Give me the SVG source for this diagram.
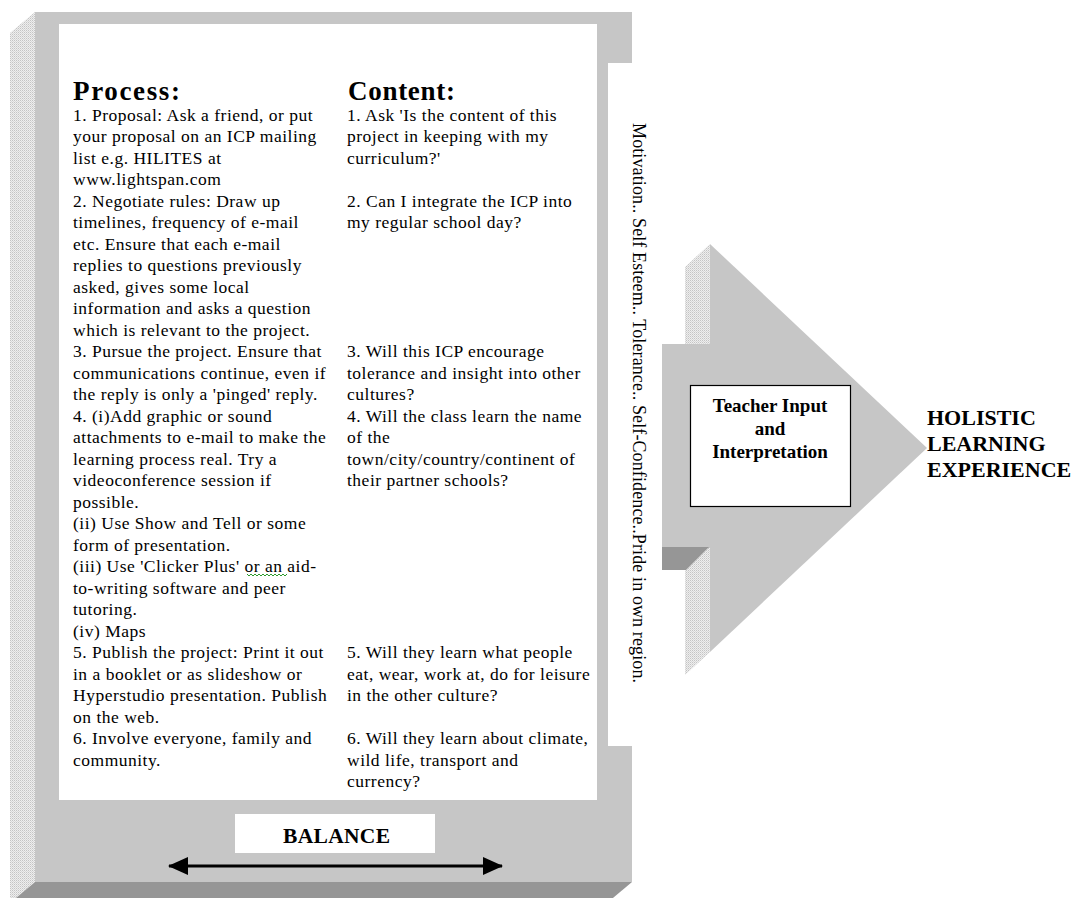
<svg xmlns="http://www.w3.org/2000/svg" width="1075" height="898" viewBox="0 0 1075 898">
<defs>
<pattern id="hatch" width="2" height="2" patternUnits="userSpaceOnUse">
<rect width="2" height="2" fill="#eeeeee"/>
<rect width="1" height="1" fill="#c4c4c4"/>
<rect x="1" y="1" width="1" height="1" fill="#d8d8d8"/>
</pattern>
<marker id="ah" viewBox="0 0 20 18" refX="19" refY="9" markerWidth="20" markerHeight="18" markerUnits="userSpaceOnUse" orient="auto-start-reverse">
<path d="M0,0 L20,9 L0,18 Z" fill="#000"/>
</marker>
<style>
.t{font-family:"Liberation Serif","Times New Roman",serif;fill:#000}
.body{font-size:17.5px;letter-spacing:0.5px}
.hdr{font-size:27px;font-weight:bold}
.b{font-weight:bold}
.light{fill:#c6c6c6}
.dark{fill:#969696}
.hat{fill:url(#hatch)}
</style>
</defs>
<rect width="1075" height="898" fill="#ffffff"/>

<g id="frame">
<polygon class="hat" points="35,12 10,33 10,903 35,882"/>
<polygon class="dark" points="35,882 632,882 607,903 10,903"/>
<polygon class="light" points="35,12 632,12 632,63 608,63 608,746 632,746 632,882 35,882"/>
<rect x="59" y="24" width="538" height="776" fill="#ffffff"/>
</g>

<g id="process" class="t">
<text class="hdr" x="73" y="100" textLength="107" lengthAdjust="spacing">Process:</text>
<g class="body">
<text x="73" y="120.5">1. Proposal: Ask a friend, or put</text>
<text x="73" y="142">your proposal on an ICP mailing</text>
<text x="73" y="163.5">list e.g. HILITES at</text>
<text x="73" y="185">www.lightspan.com</text>
<text x="73" y="206.5">2. Negotiate rules: Draw up</text>
<text x="73" y="228">timelines, frequency of e-mail</text>
<text x="73" y="249.5">etc. Ensure that each e-mail</text>
<text x="73" y="271">replies to questions previously</text>
<text x="73" y="292.5">asked, gives some local</text>
<text x="73" y="314">information and asks a question</text>
<text x="73" y="335.5">which is relevant to the project.</text>
<text x="73" y="357">3. Pursue the project. Ensure that</text>
<text x="73" y="378.5">communications continue, even if</text>
<text x="73" y="400">the reply is only a 'pinged' reply.</text>
<text x="73" y="421.5">4. (i)Add graphic or sound</text>
<text x="73" y="443">attachments to e-mail to make the</text>
<text x="73" y="464.5">learning process real. Try a</text>
<text x="73" y="486">videoconference session if</text>
<text x="73" y="507.5">possible.</text>
<text x="73" y="529">(ii) Use Show and Tell or some</text>
<text x="73" y="550.5">form of presentation.</text>
<text x="73" y="572">(iii) Use 'Clicker Plus' or an aid-</text>
<text x="73" y="593.5">to-writing software and peer</text>
<text x="73" y="615">tutoring.</text>
<text x="73" y="636.5">(iv) Maps</text>
<text x="73" y="658">5. Publish the project: Print it out</text>
<text x="73" y="679.5">in a booklet or as slideshow or</text>
<text x="73" y="701">Hyperstudio presentation. Publish</text>
<text x="73" y="722.5">on the web.</text>
<text x="73" y="744">6. Involve everyone, family and</text>
<text x="73" y="765.5">community.</text>
</g>
<polyline points="247,574 249,576 251,574 253,576 255,574 257,576 259,574 261,576 263,574 265,576 267,574 269,576 271,574 273,576 275,574 277,576 279,574 281,576 283,574 285,576 287,574" fill="none" stroke="#2a9a2a" stroke-width="1"/>
</g>

<g id="content" class="t">
<text class="hdr" x="348" y="100" textLength="107" lengthAdjust="spacing">Content:</text>
<g class="body">
<text x="347" y="120.5">1. Ask 'Is the content of this</text>
<text x="347" y="142">project in keeping with my</text>
<text x="347" y="163.5">curriculum?'</text>
<text x="347" y="206.5">2. Can I integrate the ICP into</text>
<text x="347" y="228">my regular school day?</text>
<text x="347" y="357">3. Will this ICP encourage</text>
<text x="347" y="378.5">tolerance and insight into other</text>
<text x="347" y="400">cultures?</text>
<text x="347" y="421.5">4. Will the class learn the name</text>
<text x="347" y="443">of the</text>
<text x="347" y="464.5">town/city/country/continent of</text>
<text x="347" y="486">their partner schools?</text>
<text x="347" y="658">5. Will they learn what people</text>
<text x="347" y="679.5">eat, wear, work at, do for leisure</text>
<text x="347" y="701">in the other culture?</text>
<text x="347" y="744">6. Will they learn about climate,</text>
<text x="347" y="765.5">wild life, transport and</text>
<text x="347" y="787">currency?</text>
</g>
</g>

<g id="vertical-text" class="t">
<text transform="translate(633,123) rotate(90)" x="0" y="0" font-size="18" textLength="560" lengthAdjust="spacing">Motivation.. Self Esteem.. Tolerance.. Self-Confidence..Pride in own region.</text>
</g>

<g id="big-arrow">
<polygon class="hat" points="685,267 710,244 710,652 685,675"/>
<rect class="light" x="662" y="344" width="48" height="204"/>
<polygon class="dark" points="662,547 709,547 686,570 662,570"/>
<polygon class="light" points="710,244 927,448 710,652"/>
</g>

<g id="teacher-input">
<rect x="690.5" y="385.5" width="160" height="121" fill="#ffffff" stroke="#000" stroke-width="1.2"/>
<g class="t b" font-size="19" text-anchor="middle">
<text x="770" y="412">Teacher Input</text>
<text x="770" y="435">and</text>
<text x="770" y="458">Interpretation</text>
</g>
</g>

<g id="holistic" class="t b" font-size="22">
<text x="927" y="425">HOLISTIC</text>
<text x="927" y="451">LEARNING</text>
<text x="927" y="477">EXPERIENCE</text>
</g>

<g id="balance">
<rect x="235" y="814" width="200" height="39" fill="#ffffff"/>
<text class="t b" x="283" y="843" font-size="21.5" textLength="107" lengthAdjust="spacing">BALANCE</text>
</g>

<g id="connectors">
<line x1="169" y1="866" x2="502" y2="866" stroke="#000" stroke-width="3" marker-start="url(#ah)" marker-end="url(#ah)"/>
</g>
</svg>
